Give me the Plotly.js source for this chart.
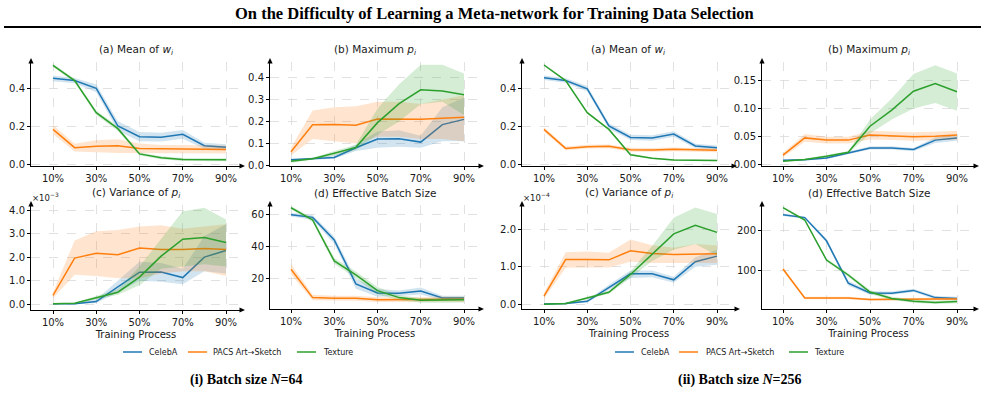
<!DOCTYPE html>
<html><head><meta charset="utf-8">
<script src="https://cdn.plot.ly/plotly-3.0.1.min.js"></script>
<style>html,body{margin:0;padding:0;background:#fff}#chart{width:985px;height:406px}</style>
</head><body><div id="chart"></div>
<script>
// ---------------- DATA ----------------
const progress = [10, 20, 30, 40, 50, 60, 70, 80, 90];
const tickPos = [10, 30, 50, 70, 90];
const tickLabels = ['10%', '30%', '50%', '70%', '90%'];
const seriesNames = ['CelebA', 'PACS Art→Sketch', 'Texture'];

// ---- (i) N = 64 ----
// (a) Mean of w_i
const n64_meanW_celeba    = [0.451, 0.439, 0.398, 0.200, 0.144, 0.141, 0.156, 0.096, 0.088];
const n64_meanW_celeba_lo = [0.436, 0.425, 0.378, 0.175, 0.120, 0.118, 0.133, 0.080, 0.072];
const n64_meanW_celeba_hi = [0.466, 0.453, 0.418, 0.225, 0.168, 0.164, 0.179, 0.112, 0.104];
const n64_meanW_pacs      = [0.182, 0.086, 0.094, 0.096, 0.082, 0.079, 0.079, 0.078, 0.076];
const n64_meanW_pacs_lo   = [0.158, 0.066, 0.062, 0.058, 0.056, 0.056, 0.056, 0.056, 0.055];
const n64_meanW_pacs_hi   = [0.205, 0.106, 0.125, 0.130, 0.108, 0.100, 0.100, 0.098, 0.097];
const n64_meanW_texture   = [0.519, 0.439, 0.270, 0.186, 0.053, 0.033, 0.024, 0.023, 0.022];
const n64_meanW_texture_lo= [0.510, 0.430, 0.258, 0.174, 0.045, 0.025, 0.016, 0.015, 0.014];
const n64_meanW_texture_hi= [0.528, 0.448, 0.282, 0.198, 0.061, 0.041, 0.032, 0.031, 0.030];
// (b) Maximum p_i
const n64_maxP_celeba     = [0.025, 0.030, 0.036, 0.080, 0.120, 0.121, 0.106, 0.186, 0.210];
const n64_maxP_celeba_lo  = [0.020, 0.025, 0.030, 0.065, 0.080, 0.085, 0.080, 0.110, 0.110];
const n64_maxP_celeba_hi  = [0.030, 0.035, 0.045, 0.095, 0.155, 0.160, 0.135, 0.265, 0.310];
const n64_maxP_pacs       = [0.062, 0.185, 0.186, 0.183, 0.212, 0.211, 0.210, 0.215, 0.220];
const n64_maxP_pacs_lo    = [0.045, 0.120, 0.110, 0.100, 0.130, 0.130, 0.120, 0.120, 0.110];
const n64_maxP_pacs_hi    = [0.080, 0.250, 0.265, 0.270, 0.290, 0.290, 0.280, 0.300, 0.320];
const n64_maxP_texture    = [0.018, 0.030, 0.055, 0.082, 0.195, 0.282, 0.345, 0.340, 0.322];
const n64_maxP_texture_lo = [0.012, 0.025, 0.045, 0.070, 0.140, 0.200, 0.280, 0.290, 0.230];
const n64_maxP_texture_hi = [0.024, 0.035, 0.065, 0.094, 0.260, 0.370, 0.460, 0.460, 0.420];
// (c) Variance of p_i  (x 1e-3)
const n64_varP_celeba     = [0.02, 0.02, 0.11, 0.75, 1.36, 1.37, 1.13, 2.00, 2.28];
const n64_varP_celeba_lo  = [0.00, 0.00, 0.05, 0.50, 1.00, 0.95, 0.85, 1.40, 1.30];
const n64_varP_celeba_hi  = [0.05, 0.05, 0.20, 1.00, 1.80, 1.75, 1.50, 2.90, 3.40];
const n64_varP_pacs       = [0.37, 1.96, 2.16, 2.10, 2.39, 2.32, 2.32, 2.36, 2.32];
const n64_varP_pacs_lo    = [0.25, 1.25, 1.20, 1.10, 1.10, 1.30, 1.40, 1.40, 1.20];
const n64_varP_pacs_hi    = [0.50, 2.70, 3.10, 3.15, 3.30, 3.35, 3.20, 3.30, 3.40];
const n64_varP_texture    = [0.02, 0.04, 0.27, 0.51, 1.15, 2.04, 2.76, 2.83, 2.62];
const n64_varP_texture_lo = [0.00, 0.02, 0.20, 0.40, 0.80, 1.50, 1.60, 1.70, 1.60];
const n64_varP_texture_hi = [0.04, 0.06, 0.35, 0.65, 1.60, 2.80, 3.95, 4.10, 3.60];
// (d) Effective Batch Size
const n64_ebs_celeba      = [59.6, 57.9, 43.8, 16.5, 10.9, 10.7, 12.1, 7.8, 7.8];
const n64_ebs_celeba_lo   = [58.5, 56.5, 41.5, 13.5, 8.5, 9.0, 10.0, 6.5, 6.5];
const n64_ebs_celeba_hi   = [60.7, 59.3, 46.0, 19.5, 13.3, 12.4, 14.2, 9.1, 9.1];
const n64_ebs_pacs        = [25.6, 8.0, 7.6, 7.6, 6.7, 6.7, 6.7, 7.1, 6.9];
const n64_ebs_pacs_lo     = [22.5, 6.3, 6.0, 6.0, 5.2, 5.2, 5.2, 5.5, 5.3];
const n64_ebs_pacs_hi     = [28.7, 9.7, 9.2, 9.2, 8.2, 8.2, 8.2, 8.7, 8.5];
const n64_ebs_texture     = [63.9, 56.3, 30.8, 22.1, 12.3, 8.0, 6.3, 6.3, 6.7];
const n64_ebs_texture_lo  = [63.0, 55.0, 29.0, 20.0, 10.0, 6.5, 4.8, 4.8, 5.0];
const n64_ebs_texture_hi  = [64.8, 57.6, 32.6, 24.2, 14.6, 9.5, 7.8, 7.8, 8.4];

// ---- (ii) N = 256 ----
const n256_meanW_celeba     = [0.454, 0.439, 0.396, 0.200, 0.140, 0.137, 0.158, 0.095, 0.086];
const n256_meanW_celeba_lo  = [0.442, 0.427, 0.382, 0.186, 0.126, 0.123, 0.143, 0.083, 0.074];
const n256_meanW_celeba_hi  = [0.466, 0.451, 0.410, 0.214, 0.154, 0.151, 0.173, 0.107, 0.098];
const n256_meanW_pacs       = [0.182, 0.082, 0.091, 0.093, 0.075, 0.074, 0.077, 0.075, 0.072];
const n256_meanW_pacs_lo    = [0.170, 0.072, 0.081, 0.083, 0.065, 0.064, 0.067, 0.065, 0.062];
const n256_meanW_pacs_hi    = [0.194, 0.092, 0.101, 0.103, 0.085, 0.084, 0.087, 0.085, 0.082];
const n256_meanW_texture    = [0.521, 0.439, 0.270, 0.182, 0.049, 0.030, 0.021, 0.019, 0.018];
const n256_meanW_texture_lo = [0.516, 0.434, 0.265, 0.177, 0.044, 0.026, 0.017, 0.015, 0.014];
const n256_meanW_texture_hi = [0.526, 0.444, 0.275, 0.187, 0.054, 0.034, 0.025, 0.023, 0.022];

const n256_maxP_celeba      = [0.0066, 0.0078, 0.011, 0.020, 0.029, 0.029, 0.026, 0.043, 0.047];
const n256_maxP_celeba_lo   = [0.0056, 0.0068, 0.009, 0.018, 0.026, 0.026, 0.023, 0.038, 0.042];
const n256_maxP_celeba_hi   = [0.0076, 0.0088, 0.013, 0.022, 0.032, 0.032, 0.029, 0.048, 0.052];
const n256_maxP_pacs        = [0.016, 0.047, 0.043, 0.043, 0.052, 0.050, 0.049, 0.050, 0.052];
const n256_maxP_pacs_lo     = [0.012, 0.040, 0.037, 0.037, 0.044, 0.043, 0.042, 0.043, 0.044];
const n256_maxP_pacs_hi     = [0.020, 0.054, 0.049, 0.049, 0.060, 0.058, 0.057, 0.058, 0.060];
const n256_maxP_texture     = [0.005, 0.008, 0.014, 0.021, 0.068, 0.097, 0.131, 0.145, 0.130];
const n256_maxP_texture_lo  = [0.004, 0.007, 0.012, 0.019, 0.055, 0.080, 0.100, 0.110, 0.096];
const n256_maxP_texture_hi  = [0.006, 0.009, 0.016, 0.023, 0.080, 0.118, 0.162, 0.178, 0.163];

// variance in units of 1e-4
const n256_varP_celeba      = [0.01, 0.02, 0.08, 0.45, 0.81, 0.81, 0.65, 1.13, 1.28];
const n256_varP_celeba_lo   = [0.00, 0.00, 0.05, 0.38, 0.70, 0.72, 0.57, 1.00, 1.05];
const n256_varP_celeba_hi   = [0.03, 0.04, 0.11, 0.52, 0.90, 0.90, 0.73, 1.25, 1.45];
const n256_varP_pacs        = [0.22, 1.19, 1.19, 1.18, 1.42, 1.35, 1.32, 1.32, 1.34];
const n256_varP_pacs_lo     = [0.15, 0.97, 0.98, 0.98, 1.13, 1.10, 1.10, 1.10, 1.10];
const n256_varP_pacs_hi     = [0.30, 1.38, 1.40, 1.37, 1.72, 1.57, 1.50, 1.60, 1.56];
const n256_varP_texture     = [0.00, 0.02, 0.17, 0.32, 0.79, 1.34, 1.87, 2.10, 1.91];
const n256_varP_texture_lo  = [0.00, 0.00, 0.14, 0.28, 0.70, 1.15, 1.45, 1.60, 1.30];
const n256_varP_texture_hi  = [0.01, 0.04, 0.20, 0.36, 0.88, 1.55, 2.30, 2.57, 2.40];

const n256_ebs_celeba       = [238, 231, 173, 67, 42.5, 42, 49, 31, 29];
const n256_ebs_celeba_lo    = [235, 228, 168, 61, 38, 38, 45, 27, 25];
const n256_ebs_celeba_hi    = [241, 234, 178, 73, 47, 46, 53, 35, 33];
const n256_ebs_pacs         = [102.5, 30, 30, 30, 26, 27, 27, 27.5, 27.5];
const n256_ebs_pacs_lo      = [98, 27, 27, 27, 23, 24, 24, 24.5, 24.5];
const n256_ebs_pacs_hi      = [107, 33, 33, 33, 29, 30, 30, 30.5, 30.5];
const n256_ebs_texture      = [256, 225, 125, 87.5, 45, 29, 22, 19, 21];
const n256_ebs_texture_lo   = [254, 222, 121, 83, 40, 25, 18, 15, 17];
const n256_ebs_texture_hi   = [258, 228, 129, 92, 50, 33, 26, 23, 25];

// ---------------- LAYOUT / BUILD ----------------
const W = 985, H = 406;
const PX = x => x / W, PY = y => 1 - y / H;
const colors = ['#1f77b4', '#ff7f0e', '#2ca02c'];
const fills = ['rgba(31,119,180,0.2)', 'rgba(255,127,14,0.2)', 'rgba(44,160,44,0.2)'];
const FONT = 'DejaVu Sans';
const SERIF = 'Liberation Serif';
const TXT = '#1a1a1a';

function grp(m, l, h) { return { mean: m, lo: l, hi: h }; }
const sets = {
  n64a: [grp(n64_meanW_celeba, n64_meanW_celeba_lo, n64_meanW_celeba_hi), grp(n64_meanW_pacs, n64_meanW_pacs_lo, n64_meanW_pacs_hi), grp(n64_meanW_texture, n64_meanW_texture_lo, n64_meanW_texture_hi)],
  n64b: [grp(n64_maxP_celeba, n64_maxP_celeba_lo, n64_maxP_celeba_hi), grp(n64_maxP_pacs, n64_maxP_pacs_lo, n64_maxP_pacs_hi), grp(n64_maxP_texture, n64_maxP_texture_lo, n64_maxP_texture_hi)],
  n64c: [grp(n64_varP_celeba, n64_varP_celeba_lo, n64_varP_celeba_hi), grp(n64_varP_pacs, n64_varP_pacs_lo, n64_varP_pacs_hi), grp(n64_varP_texture, n64_varP_texture_lo, n64_varP_texture_hi)],
  n64d: [grp(n64_ebs_celeba, n64_ebs_celeba_lo, n64_ebs_celeba_hi), grp(n64_ebs_pacs, n64_ebs_pacs_lo, n64_ebs_pacs_hi), grp(n64_ebs_texture, n64_ebs_texture_lo, n64_ebs_texture_hi)],
  n256a: [grp(n256_meanW_celeba, n256_meanW_celeba_lo, n256_meanW_celeba_hi), grp(n256_meanW_pacs, n256_meanW_pacs_lo, n256_meanW_pacs_hi), grp(n256_meanW_texture, n256_meanW_texture_lo, n256_meanW_texture_hi)],
  n256b: [grp(n256_maxP_celeba, n256_maxP_celeba_lo, n256_maxP_celeba_hi), grp(n256_maxP_pacs, n256_maxP_pacs_lo, n256_maxP_pacs_hi), grp(n256_maxP_texture, n256_maxP_texture_lo, n256_maxP_texture_hi)],
  n256c: [grp(n256_varP_celeba, n256_varP_celeba_lo, n256_varP_celeba_hi), grp(n256_varP_pacs, n256_varP_pacs_lo, n256_varP_pacs_hi), grp(n256_varP_texture, n256_varP_texture_lo, n256_varP_texture_hi)],
  n256d: [grp(n256_ebs_celeba, n256_ebs_celeba_lo, n256_ebs_celeba_hi), grp(n256_ebs_pacs, n256_ebs_pacs_lo, n256_ebs_pacs_hi), grp(n256_ebs_texture, n256_ebs_texture_lo, n256_ebs_texture_hi)]
};

// panel geometry (pixels): box = [left, right, top, bottom]; xc = px of 10% and 90%; yc = [v1,p1,v2,p2]
const panels = [
  { set: 'n64a', box: [31, 241, 62, 166], xc: [53, 226], yc: [0, 164, 0.4, 88], fmt: '.1f', dtick: 0.2, title: '(a) Mean of <i>w</i><sub><i>i</i></sub>', xt: false },
  { set: 'n64b', box: [270, 480, 62, 166], xc: [291, 464], yc: [0, 165.3, 0.4, 77.8], fmt: '.1f', dtick: 0.1, title: '(b) Maximum <i>p</i><sub><i>i</i></sub>', xt: false },
  { set: 'n64c', box: [31, 241, 205, 310], xc: [53, 226], yc: [0, 304.2, 4, 210], fmt: '.1f', dtick: 1, title: '(c) Variance of <i>p</i><sub><i>i</i></sub>', xt: true, exp: '×10<sup>−3</sup>' },
  { set: 'n64d', box: [270, 480, 205, 309], xc: [291, 464], yc: [20, 278.3, 60, 214], fmt: 'd', dtick: 20, title: '(d) Effective Batch Size', xt: true },
  { set: 'n256a', box: [522, 733, 62, 166], xc: [544, 717], yc: [0, 164, 0.4, 88], fmt: '.1f', dtick: 0.2, title: '(a) Mean of <i>w</i><sub><i>i</i></sub>', xt: false },
  { set: 'n256b', box: [762, 975, 62, 166], xc: [783, 957], yc: [0, 164, 0.15, 80.7], fmt: '.2f', dtick: 0.05, title: '(b) Maximum <i>p</i><sub><i>i</i></sub>', xt: false },
  { set: 'n256c', box: [522, 736, 205, 309], xc: [544, 717], yc: [0, 304.3, 2, 229], fmt: '.1f', dtick: 1, title: '(c) Variance of <i>p</i><sub><i>i</i></sub>', xt: true, exp: '×10<sup>−4</sup>' },
  { set: 'n256d', box: [762, 975, 205, 309], xc: [783, 957], yc: [100, 270, 200, 230], fmt: 'd', dtick: 100, title: '(d) Effective Batch Size', xt: true }
];

function lin(pA, pB, v1, p1, v2, p2) { const s = (v2 - v1) / (p2 - p1); return [v1 + (pA - p1) * s, v1 + (pB - p1) * s]; }

const traces = [];
const layout = {
  width: W, height: H, margin: { l: 0, r: 0, t: 0, b: 0 },
  paper_bgcolor: '#fff', plot_bgcolor: '#fff', showlegend: false,
  font: { family: FONT, size: 10, color: TXT },
  annotations: [], shapes: []
};

panels.forEach((p, i) => {
  const n = i + 1, xs = n === 1 ? '' : String(n);
  const [L, R, T, B] = p.box;
  const xa = {
    domain: [PX(L), PX(R)], range: lin(L, R, 10, p.xc[0], 90, p.xc[1]), anchor: 'y' + xs,
    tickmode: 'array', tickvals: tickPos, ticktext: tickLabels,
    showline: true, linecolor: '#000', linewidth: 1, ticks: 'outside', ticklen: 3, tickcolor: '#000',
    showgrid: true, gridcolor: '#d9d9d9', griddash: 'dash', gridwidth: 0.8, zeroline: false,
    tickfont: { family: FONT, size: 10, color: TXT }, fixedrange: true
  };
  if (p.xt) xa.title = { text: 'Training Process', font: { family: FONT, size: 10, color: TXT }, standoff: 3 };
  const ya = {
    domain: [PY(B), PY(T)], range: lin(B, T, p.yc[0], p.yc[1], p.yc[2], p.yc[3]), anchor: 'x' + xs,
    tick0: 0, dtick: p.dtick, tickformat: p.fmt,
    showline: true, linecolor: '#000', linewidth: 1, ticks: 'outside', ticklen: 3, tickcolor: '#000',
    showgrid: true, gridcolor: '#d9d9d9', griddash: 'dash', gridwidth: 0.8, zeroline: false,
    tickfont: { family: FONT, size: 10, color: TXT }, fixedrange: true
  };
  layout['xaxis' + xs] = xa;
  layout['yaxis' + xs] = ya;

  sets[p.set].forEach((s, k) => {
    traces.push({
      x: progress.concat(progress.slice().reverse()), y: s.hi.concat(s.lo.slice().reverse()),
      xaxis: 'x' + xs, yaxis: 'y' + xs, type: 'scatter', mode: 'lines', fill: 'toself',
      fillcolor: fills[k], line: { width: 0, color: 'rgba(0,0,0,0)' }, hoverinfo: 'skip', name: seriesNames[k] + ' band'
    });
    traces.push({
      x: progress, y: s.mean, xaxis: 'x' + xs, yaxis: 'y' + xs, type: 'scatter', mode: 'lines',
      line: { color: colors[k], width: 1.5 }, name: seriesNames[k]
    });
  });

  // subplot title
  layout.annotations.push({
    xref: 'paper', yref: 'paper', x: PX((L + R) / 2), y: PY(T === 62 ? 50 : 193),
    text: p.title, showarrow: false, xanchor: 'center', yanchor: 'middle',
    font: { family: FONT, size: 10.5, color: TXT }
  });
  if (p.exp) layout.annotations.push({
    xref: 'paper', yref: 'paper', x: PX(L - 1), y: PY(197), text: p.exp, showarrow: false,
    xanchor: 'left', yanchor: 'middle', font: { family: FONT, size: 8.5, color: TXT }
  });
  // arrow heads
  const tri = (pts) => 'M' + pts.map(q => PX(q[0]) + ',' + PY(q[1])).join(' L') + ' Z';
  layout.shapes.push({ type: 'path', xref: 'paper', yref: 'paper', path: tri([[L, T - 4], [L - 2.6, T + 1.5], [L + 2.6, T + 1.5]]), fillcolor: '#000', line: { width: 0 } });
  layout.shapes.push({ type: 'path', xref: 'paper', yref: 'paper', path: tri([[R + 4, B], [R - 1.5, B - 2.6], [R - 1.5, B + 2.6]]), fillcolor: '#000', line: { width: 0 } });
});

// main title + rule
layout.annotations.push({
  xref: 'paper', yref: 'paper', x: PX(494), y: PY(14), showarrow: false, xanchor: 'center', yanchor: 'middle',
  text: '<b>On the Difficulty of Learning a Meta-network for Training Data Selection</b>',
  font: { family: SERIF, size: 16.5, color: '#000' }
});
layout.shapes.push({ type: 'line', xref: 'paper', yref: 'paper', x0: PX(4), x1: PX(981), y0: PY(27), y1: PY(27), line: { color: '#000', width: 2 } });

// legends (one per batch-size group)
const legendDefs = [
  { y: 352, items: [[123, 147], [188, 211], [297, 321]] },
  { y: 352, items: [[615, 639], [679, 704], [789, 812]] }
];
legendDefs.forEach(ld => {
  ld.items.forEach((it, k) => {
    layout.shapes.push({ type: 'line', xref: 'paper', yref: 'paper', x0: PX(it[0]), x1: PX(it[0] + 19), y0: PY(ld.y), y1: PY(ld.y), line: { color: colors[k], width: 1.5 } });
    layout.annotations.push({ xref: 'paper', yref: 'paper', x: PX(it[1]), y: PY(ld.y), text: seriesNames[k], showarrow: false, xanchor: 'left', yanchor: 'middle', font: { family: FONT, size: 8, color: TXT } });
  });
});

// captions
const captions = ['<b>(i) Batch size <i>N</i>=64</b>', '<b>(ii) Batch size <i>N</i>=256</b>'];
[246, 739].forEach((cx, i) => layout.annotations.push({
  xref: 'paper', yref: 'paper', x: PX(cx), y: PY(380), text: captions[i], showarrow: false,
  xanchor: 'center', yanchor: 'middle', font: { family: SERIF, size: 14, color: '#000' }
}));

Plotly.newPlot('chart', traces, layout, { staticPlot: true, displayModeBar: false });
</script>
</body></html>
